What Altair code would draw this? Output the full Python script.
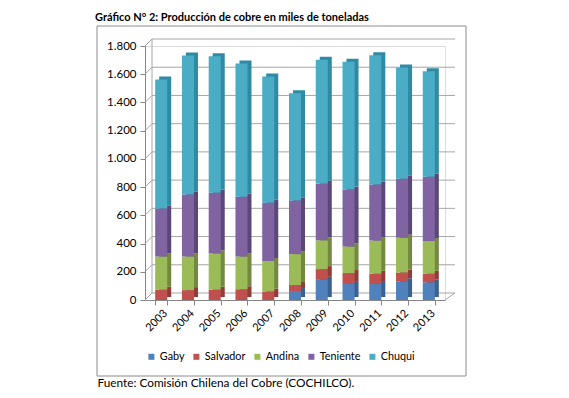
import altair as alt
import pandas as pd

years = ["2003", "2004", "2005", "2006", "2007", "2008", "2009", "2010", "2011", "2012", "2013"]
series = ["Gaby", "Salvador", "Andina", "Teniente", "Chuqui"]
gaby = [0, 0, 0, 0, 0, 64, 143, 113, 113, 132, 125]
salvador = [73, 70, 73, 76, 61, 42, 76, 78, 73, 63, 61]
andina = [235, 238, 257, 232, 216, 219, 204, 188, 235, 247, 232]
teniente = [341, 440, 430, 424, 413, 381, 400, 404, 398, 417, 455]
chuqui = [914, 985, 968, 944, 893, 760, 879, 906, 916, 788, 748]
tick_values = [0, 200, 400, 600, 800, 1000, 1200, 1400, 1600, 1800]

colors = ["#4F81BD", "#C0504D", "#9BBB59", "#8064A2", "#4BACC6"]
dark_colors = ["#3A6190", "#913C39", "#72893F", "#5C4878", "#2F8AA3"]

title_text = "Gráfico N° 2: Producción  de cobre  en miles de toneladas"
footer_text = "Fuente: Comisión Chilena del Cobre  (COCHILCO)."

rows = []
for i, yr in enumerate(years):
    for k, (s, vals) in enumerate(zip(series, [gaby, salvador, andina, teniente, chuqui])):
        rows.append({"year": yr, "serie": s, "value": vals[i], "orden": k})
df = pd.DataFrame(rows)
ticks_df = pd.DataFrame({"v": tick_values})

W, H = 300, 254
FONT = "Lato"
GRID = "#A6A6A6"
AXIS = "#868686"

xscale = alt.Scale(domain=years, paddingInner=0.55, paddingOuter=0.38)
yscale = alt.Scale(domain=[0, 1800], nice=False)

yaxis = alt.Axis(
    values=tick_values,
    labelExpr="replace(format(datum.value, ','), ',', '.')",
    grid=False,
    domainColor=AXIS,
    tickColor=AXIS,
    tickSize=5,
    labelPadding=4,
    labelFont=FONT,
    labelFontSize=11.5,
    labelColor="#000000",
    title=None,
)
xaxis = alt.Axis(
    labelAngle=-45,
    tickBand="extent",
    domainColor=AXIS,
    tickColor=AXIS,
    tickSize=5,
    labelFontSize=11,
    labelFont=FONT,
    labelColor="#000000",
    labelPadding=2,
    title=footer_text,
    titleX=-48,
    titleY=82,
    titleAlign="left",
    titleAnchor="start",
    titleBaseline="middle",
    titleAngle=0,
    titleFont=FONT,
    titleFontSize=11.8,
    titleFontWeight="normal",
    titleColor="#000000",
)

# back wall gridlines
grid = alt.Chart(ticks_df).mark_rule(color=GRID, strokeWidth=1, yOffset=-7).encode(
    y=alt.Y("v:Q", scale=yscale, axis=yaxis),
    x=alt.value(7),
    x2=alt.value(310),
)
diag = alt.Chart(ticks_df).mark_rule(color=GRID, strokeWidth=1, y2Offset=-7).encode(
    y=alt.Y("v:Q", scale=yscale, axis=yaxis),
    y2="v:Q",
    x=alt.value(0),
    x2=alt.value(7),
)
wall = alt.Chart(ticks_df).mark_rule(color=GRID, strokeWidth=1, yOffset=-7, y2Offset=-7).encode(
    y=alt.Y("max(v):Q", scale=yscale, axis=yaxis),
    y2="min(v):Q",
    x=alt.value(7),
)
floor_edge = alt.Chart(ticks_df).transform_filter("datum.v == 0").mark_rule(
    color=GRID, strokeWidth=1, y2Offset=-7
).encode(
    y=alt.Y("v:Q", scale=yscale, axis=yaxis),
    y2="v:Q",
    x=alt.value(W),
    x2=alt.value(310),
)

frame = alt.Chart(alt.Data(values=[{}])).mark_rect(
    fill="transparent", stroke="#8C8C8C", strokeWidth=1
).encode(
    x=alt.value(-48), x2=alt.value(321), y=alt.value(-20), y2=alt.value(330)
)

side = alt.Chart(df).mark_bar(xOffset=4, yOffset=-3, y2Offset=-3).encode(
    x=alt.X("year:N", scale=xscale, axis=xaxis),
    y=alt.Y("value:Q", stack="zero", scale=yscale, axis=yaxis),
    color=alt.Color("serie:N", scale=alt.Scale(domain=series, range=dark_colors), legend=None),
    order=alt.Order("orden:Q"),
)

front = alt.Chart(df).mark_bar().encode(
    x=alt.X("year:N", scale=xscale, axis=xaxis),
    y=alt.Y("value:Q", stack="zero", scale=yscale, axis=yaxis),
    color=alt.Color(
        "serie:N",
        scale=alt.Scale(domain=series, range=colors),
        legend=alt.Legend(
            orient="none",
            legendX=1,
            legendY=305,
            direction="horizontal",
            title=None,
            symbolType="square",
            symbolSize=36,
            symbolStrokeWidth=0,
            labelFont=FONT,
            labelFontSize=10.8,
            labelColor="#000000",
            columnPadding=6,
            labelOffset=3,
            padding=0,
        ),
    ),
    order=alt.Order("orden:Q"),
)

chart = alt.layer(frame, grid, diag, wall, floor_edge, side, front).resolve_scale(
    color="independent"
).properties(
    width=W,
    height=H,
    title=alt.TitleParams(
        title_text,
        anchor="start",
        frame="group",
        dx=-50,
        offset=3,
        font=FONT,
        fontSize=11,
        fontWeight="bold",
        color="#000000",
    ),
    padding={"left": 137, "top": 38, "right": 108, "bottom": 88},
    autosize="none",
).configure_view(stroke=None).configure(background="white")

chart.save("out.html", embed_options={"renderer": "svg", "actions": False})
